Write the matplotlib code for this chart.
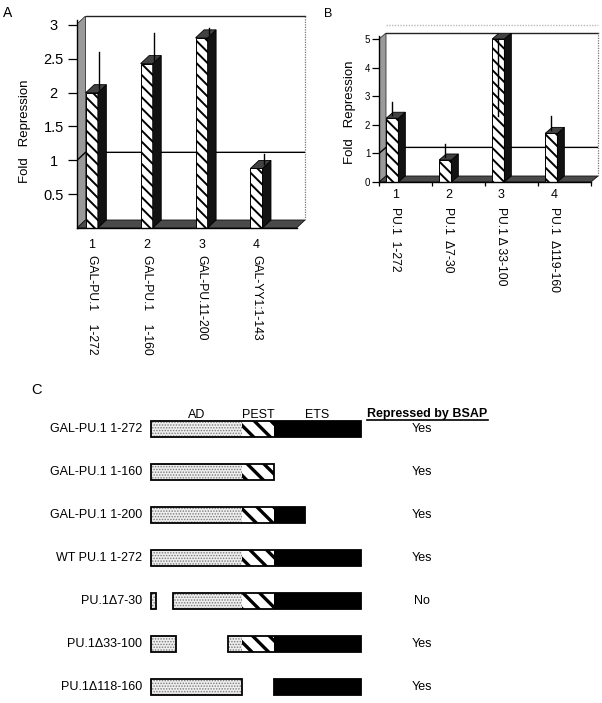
import matplotlib
matplotlib.use("Agg")
import matplotlib.pyplot as plt
from matplotlib.patches import Polygon, Rectangle
from matplotlib.lines import Line2D

plt.rcParams['font.family'] = ['Liberation Sans', 'DejaVu Sans']
plt.rcParams['hatch.linewidth'] = 1.2

# ---------------- data ----------------
# Panel A
a_numbers = ["1", "2", "3", "4"]
a_labels = ["GAL-PU.1    1-272", "GAL-PU.1    1-160", "GAL-PU.11-200", "GAL-YY1:1-143"]
a_values = [2.0, 2.43, 2.81, 0.88]
a_err_up = [0.60, 0.45, 0.14, 0.21]
a_err_down = [0.0, 0.0, 0.0, 0.0]
a_yticks = [0.5, 1, 1.5, 2, 2.5, 3]
a_ref = 1.0

# Panel B
b_numbers = ["1", "2", "3", "4"]
b_labels = ["PU.1  1-272", "PU.1  \u03947-30", "PU.1 \u0394 33-100", "PU.1  \u0394119-160"]
b_values = [2.23, 0.77, 5.0, 1.70]
b_err_up = [0.57, 0.55, 0.0, 0.60]
b_err_down = [0.0, 0.0, 2.7, 0.0]
b_yticks = [0, 1, 2, 3, 4, 5]
b_ref = 1.0

# Panel C
constructs = ["GAL-PU.1 1-272", "GAL-PU.1 1-160", "GAL-PU.1 1-200", "WT PU.1 1-272",
              "PU.1\u03947-30", "PU.1\u039433-100", "PU.1\u0394118-160"]
retained = [[(1, 272)], [(1, 160)], [(1, 200)], [(1, 272)],
            [(1, 7), (30, 272)], [(1, 33), (100, 272)], [(1, 118), (160, 272)]]
answers = ["Yes", "Yes", "Yes", "Yes", "No", "Yes", "Yes"]
domain_names = ["AD", "PEST", "ETS"]
domain_bounds = [(1, 118), (118, 160), (160, 272)]
header_answer = "Repressed by BSAP"

# ---------------- figure ----------------
W, H = 602, 703
fig = plt.figure(figsize=(W / 100, H / 100), dpi=100)
fig.patch.set_facecolor("white")


def px_axes(l, t, r, b):
    return fig.add_axes([l / W, 1 - b / H, (r - l) / W, (b - t) / H])


def set_hlw(p, lw):
    if hasattr(p, "set_hatch_linewidth"):
        p.set_hatch_linewidth(lw)


def draw_3d(ax, values, err_up, err_down, ref, yticks, numbers, labels,
            axw_px, axh_px, dx_px, dy_px, y_front_top, ypx_unit,
            bar_off, bar_w, err_off, lab_off, num_y, lab_y, num_fs, lab_fs,
            tick_fs, tick_len, tick_pad, center_ticks, xticks):
    n = len(values)
    xs = (axw_px - dx_px) / n          # px per category slot
    dxu = dx_px / xs
    dyu = dy_px / ypx_unit
    xr = n + dxu
    ytop = axh_px / ypx_unit
    ax.set_xlim(0, xr)
    ax.set_ylim(0, ytop)
    ax.set_facecolor("none")
    # back wall
    ax.add_patch(Rectangle((dxu, dyu), xr - dxu, ytop - dyu, fc="white", ec="none", zorder=0.1))
    ax.plot([dxu, xr], [ytop, ytop], color="#222222", lw=1.0, clip_on=False, zorder=0.5)
    ax.plot([xr, xr], [dyu, ytop], color="#777777", lw=0.9, ls=(0, (1, 1)), clip_on=False, zorder=0.5)
    # left wall
    lw_p = Polygon([(0, 0), (dxu, dyu), (dxu, ytop), (0, ytop - dyu)], closed=True,
                   fc="#9a9a9a", ec="#333333", lw=0.6, zorder=0.3)
    ax.add_patch(lw_p)
    # floor
    ax.add_patch(Polygon([(0, 0), (n, 0), (xr, dyu), (dxu, dyu)], closed=True,
                         fc="#4a4a4a", ec="#111111", lw=0.6, zorder=0.4))
    # reference line
    ax.plot([0, dxu, xr], [ref, ref + dyu, ref + dyu], color="black", lw=1.0, zorder=0.6)
    # bars
    for i, v in enumerate(values):
        c = i + bar_off
        x0, x1 = c - bar_w / 2, c + bar_w / 2
        fr = Rectangle((x0, 0), bar_w, v, fc="white", ec="black", lw=0.7,
                       hatch="\\\\\\", zorder=2)
        set_hlw(fr, 1.4)
        ax.add_patch(fr)
        ax.add_patch(Polygon([(x1, 0), (x1 + dxu, dyu), (x1 + dxu, v + dyu), (x1, v)],
                             closed=True, fc="#121212", ec="black", lw=0.6, zorder=2))
        ax.add_patch(Polygon([(x0, v), (x0 + dxu, v + dyu), (x1 + dxu, v + dyu), (x1, v)],
                             closed=True, fc="#424242", ec="black", lw=0.6, zorder=2.1))
        ex = c + err_off
        if err_up[i] > 0:
            ax.plot([ex, ex], [v + dyu * 0.5, v + err_up[i]], color="black", lw=1.0,
                    zorder=2.2, clip_on=False)
        if err_down[i] > 0:
            ax.plot([ex, ex], [v, v - err_down[i]], color="black", lw=1.0, zorder=2.2)
        ax.text(c + lab_off, num_y, numbers[i], transform=ax.get_xaxis_transform(),
                ha="center", va="center", fontsize=num_fs)
        ax.text(c + lab_off, lab_y, labels[i], transform=ax.get_xaxis_transform(),
                ha="center", va="top", rotation=270, fontsize=lab_fs)
    # spines / ticks
    for s in ["top", "right"]:
        ax.spines[s].set_visible(False)
    ax.spines["left"].set_bounds(0, y_front_top)
    ax.spines["bottom"].set_bounds(0, n)
    ax.spines["left"].set_zorder(3)
    ax.spines["bottom"].set_zorder(3)
    ax.spines["left"].set_linewidth(1.0)
    ax.spines["bottom"].set_linewidth(1.0)
    ax.set_yticks(yticks)
    ax.set_yticklabels([f"{t:g}" for t in yticks])
    ax.tick_params(axis="y", direction="out", length=tick_len, width=0.9,
                   pad=tick_pad, labelsize=tick_fs)
    if center_ticks:
        for lab in ax.get_yticklabels():
            lab.set_ha("center")
    if xticks:
        ax.set_xticks(list(range(n + 1)))
        ax.set_xticklabels([""] * (n + 1))
        ax.tick_params(axis="x", direction="out", length=3, width=0.9)
    else:
        ax.set_xticks([])


# Panel A
axA = px_axes(77, 16, 305, 228)
draw_3d(axA, a_values, a_err_up, a_err_down, a_ref, a_yticks, a_numbers, a_labels,
        axw_px=228, axh_px=212, dx_px=8.5, dy_px=8, y_front_top=3.08, ypx_unit=67.67,
        bar_off=0.27, bar_w=0.22, err_off=0.13, lab_off=0.0,
        num_y=-17 / 212, lab_y=-27 / 212, num_fs=9, lab_fs=8.7,
        tick_fs=10.5, tick_len=6.5, tick_pad=10.3, center_ticks=True, xticks=False)

# Panel B
axB = px_axes(379, 33, 598, 182)
draw_3d(axB, b_values, b_err_up, b_err_down, b_ref, b_yticks, b_numbers, b_labels,
        axw_px=219, axh_px=149, dx_px=7, dy_px=6, y_front_top=5.1, ypx_unit=28.6,
        bar_off=0.25, bar_w=0.23, err_off=0.0, lab_off=0.06,
        num_y=-13 / 149, lab_y=-25 / 149, num_fs=9, lab_fs=8.7,
        tick_fs=7, tick_len=5, tick_pad=1.2, center_ticks=False, xticks=True)
axB.plot([0.13, 4.13], [5.21 + 8 / 28.6] * 2, color="#bbbbbb", lw=1.0,
         ls=(0, (1, 1)), clip_on=False)

# Y labels & panel letters
fig.text(25 / W, 1 - 131 / H, "Fold   Repression", rotation=90, ha="center", va="center", fontsize=9.5)
fig.text(350 / W, 1 - 112 / H, "Fold   Repression", rotation=90, ha="center", va="center", fontsize=9.5)
fig.text(7.5 / W, 1 - 13 / H, "A", ha="center", va="center", fontsize=10)
fig.text(328.5 / W, 1 - 14 / H, "B", ha="center", va="center", fontsize=9)
fig.text(36 / W, 1 - 390 / H, "C", ha="center", va="center", fontsize=10.5)

# Panel C
axC = px_axes(0, 380, 602, 703)
s = 210 / 271.0
axC.set_xlim(1 - 151 / s, 1 + (602 - 151) / s)
axC.set_ylim((703 - 429) / 43, (380 - 429) / 43)
axC.axis("off")
bh = 16 / 43
styles = [dict(fc="#eeeeee", ec="#7a7a7a", hatch="......", lw=0),
          dict(fc="white", ec="black", hatch="\\\\", lw=0),
          dict(fc="black", ec="black", lw=0)]
for r, (name, segs, ans) in enumerate(zip(constructs, retained, answers)):
    for (s0, e0) in segs:
        for (d0, d1), st in zip(domain_bounds, styles):
            lo, hi = max(s0, d0), min(e0, d1)
            if hi > lo:
                p = Rectangle((lo, r - bh / 2), hi - lo, bh, zorder=1, **st)
                if "hatch" in st and st["hatch"].startswith("\\"):
                    set_hlw(p, 2.4)
                elif "hatch" in st:
                    set_hlw(p, 0.7)
                axC.add_patch(p)
        axC.add_patch(Rectangle((s0, r - bh / 2), e0 - s0, bh, fill=False,
                                ec="black", lw=1.3, zorder=2))
    axC.text(-10.6, r, name, ha="right", va="center", fontsize=9)
    axC.text(350, r, ans, ha="center", va="center", fontsize=9)

hy = (417.5 - 429) / 43
for name, (d0, d1) in zip(domain_names, domain_bounds):
    axC.text((d0 + d1) / 2, hy, name, ha="center", va="baseline", fontsize=9)
th = axC.text(357.8, hy, header_answer, ha="center", va="baseline", fontsize=9, fontweight="bold")

fig.canvas.draw()
bb = th.get_window_extent(fig.canvas.get_renderer())
ybase = axC.transData.transform((0, hy))[1] - 2.5
fig.add_artist(Line2D([bb.x0 / W, bb.x1 / W], [ybase / H, ybase / H],
                      transform=fig.transFigure, color="black", lw=1.2))

fig.savefig("out.png", dpi=100, facecolor="white")
